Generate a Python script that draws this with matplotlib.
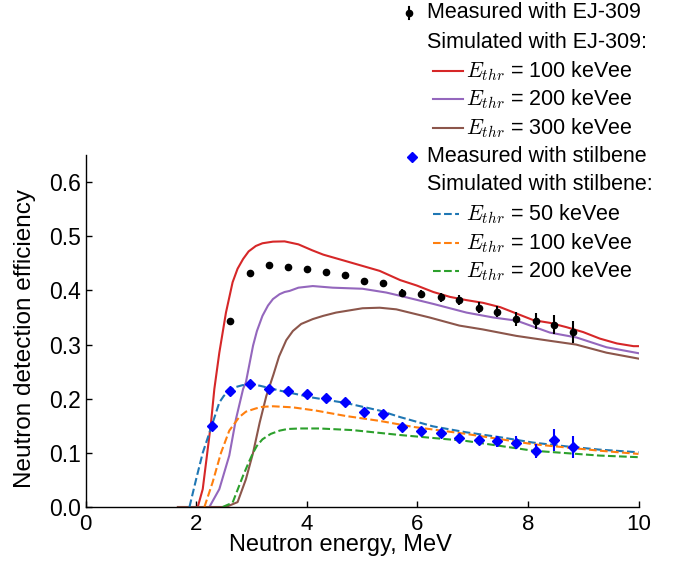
import matplotlib
matplotlib.use("Agg")
import matplotlib.pyplot as plt
from matplotlib.lines import Line2D

plt.rcParams["font.family"] = ["Liberation Sans", "DejaVu Sans"]
plt.rcParams["mathtext.fontset"] = "cm"

# measured points
e_ej = [2.62, 2.97, 3.31, 3.66, 4.00, 4.35, 4.69, 5.04, 5.38, 5.73, 6.07, 6.42, 6.76,
        7.11, 7.45, 7.79, 8.14, 8.48, 8.82]
eff_ej = [0.344, 0.432, 0.446, 0.443, 0.439, 0.434, 0.429, 0.417, 0.414, 0.396, 0.393,
          0.387, 0.382, 0.368, 0.361, 0.347, 0.343, 0.337, 0.323]
err_ej = [0.005, 0.004, 0.004, 0.004, 0.004, 0.004, 0.004, 0.005, 0.006, 0.006, 0.007,
          0.008, 0.009, 0.010, 0.011, 0.013, 0.015, 0.017, 0.020]

e_st = [2.28, 2.62, 2.97, 3.31, 3.66, 4.00, 4.35, 4.69, 5.04, 5.38, 5.73, 6.07, 6.42,
        6.76, 7.11, 7.45, 7.79, 8.14, 8.48, 8.82]
eff_st = [0.149, 0.214, 0.228, 0.218, 0.214, 0.209, 0.201, 0.194, 0.175, 0.171, 0.147,
          0.140, 0.137, 0.127, 0.123, 0.121, 0.119, 0.103, 0.124, 0.111]
err_st = [0.004, 0.004, 0.004, 0.004, 0.004, 0.004, 0.004, 0.004, 0.005, 0.005, 0.006,
          0.006, 0.007, 0.008, 0.009, 0.010, 0.012, 0.013, 0.020, 0.020]

# simulated EJ-309
e_red = [2.03, 2.12, 2.18, 2.27, 2.33, 2.42, 2.54, 2.66, 2.75, 2.85, 2.95, 3.08, 3.20,
         3.39, 3.60, 3.85, 4.10, 4.30, 4.71, 5.32, 5.69, 5.99, 6.29, 6.59, 6.89, 7.19,
         7.50, 7.80, 8.10, 8.40, 8.70, 9.00, 9.30, 9.61, 9.91, 10.0]
v_red = [0.0, 0.033, 0.082, 0.156, 0.218, 0.285, 0.359, 0.415, 0.440, 0.458, 0.472,
         0.482, 0.487, 0.490, 0.4905, 0.485, 0.474, 0.466, 0.454, 0.436, 0.419, 0.409,
         0.397, 0.388, 0.382, 0.377, 0.369, 0.357, 0.345, 0.340, 0.332, 0.323, 0.311,
         0.302, 0.297, 0.297]

e_pur = [2.24, 2.42, 2.60, 2.72, 2.85, 2.90, 3.03, 3.10, 3.20, 3.30, 3.39, 3.51, 3.60,
         3.69, 3.85, 4.11, 4.47, 5.01, 5.44, 5.69, 6.29, 6.89, 7.37, 7.80, 8.40, 8.88,
         9.42, 10.0]
v_pur = [0.0, 0.033, 0.095, 0.162, 0.218, 0.230, 0.298, 0.325, 0.353, 0.372, 0.384,
         0.393, 0.397, 0.399, 0.405, 0.408, 0.405, 0.403, 0.396, 0.390, 0.375, 0.359,
         0.350, 0.344, 0.322, 0.313, 0.295, 0.284]

e_brn = [1.67, 2.54, 2.75, 2.90, 3.03, 3.15, 3.27, 3.40, 3.50, 3.63, 3.75, 3.90, 4.11,
         4.30, 4.53, 5.01, 5.32, 5.62, 6.22, 6.76, 7.18, 7.79, 8.39, 8.87, 9.42, 10.0]
v_brn = [0.0, 0.0, 0.009, 0.051, 0.100, 0.156, 0.205, 0.245, 0.278, 0.308, 0.325,
         0.338, 0.347, 0.353, 0.359, 0.367, 0.368, 0.365, 0.350, 0.335, 0.328, 0.316,
         0.307, 0.300, 0.285, 0.274]

# simulated stilbene
e_blu = [1.88, 2.00, 2.12, 2.27, 2.42, 2.50, 2.60, 2.70, 2.84, 3.00, 3.15, 3.51, 4.11,
         4.71, 5.32, 5.69, 6.28, 6.88, 7.49, 8.09, 8.69, 9.29, 10.0]
v_blu = [0.0, 0.051, 0.100, 0.146, 0.193, 0.205, 0.215, 0.221, 0.225, 0.226, 0.224,
         0.215, 0.202, 0.192, 0.178, 0.166, 0.149, 0.138, 0.129, 0.119, 0.112, 0.106,
         0.101]

e_org = [2.15, 2.30, 2.45, 2.60, 2.78, 2.90, 3.08, 3.20, 3.39, 3.75, 4.17, 4.71, 5.32,
         5.92, 6.88, 8.09, 9.29, 10.0]
v_org = [0.0, 0.046, 0.100, 0.141, 0.166, 0.176, 0.182, 0.185, 0.186, 0.184, 0.178,
         0.168, 0.159, 0.148, 0.135, 0.116, 0.104, 0.098]

e_grn = [2.48, 2.66, 2.85, 2.95, 3.03, 3.10, 3.20, 3.35, 3.51, 3.65, 3.87, 4.23, 4.83,
         5.68, 6.88, 8.09, 9.29, 10.0]
v_grn = [0.0, 0.008, 0.058, 0.082, 0.100, 0.113, 0.125, 0.135, 0.141, 0.144, 0.145,
         0.145, 0.142, 0.133, 0.122, 0.104, 0.095, 0.092]

W, H = 699, 564
fig = plt.figure(figsize=(W / 100, H / 100), dpi=100)
ax = fig.add_axes([85.5 / W, 1 - 507 / H, 553 / W, 352 / H])

ax.plot(e_red, v_red, color="#d62728", lw=1.5)
ax.plot(e_pur, v_pur, color="#9467bd", lw=1.5)
ax.plot(e_brn, v_brn, color="#8c564b", lw=1.5)
ax.plot(e_blu, v_blu, color="#1f77b4", lw=1.5, ls="--")
ax.plot(e_org, v_org, color="#ff7f0e", lw=1.5, ls="--")
ax.plot(e_grn, v_grn, color="#2ca02c", lw=1.5, ls="--")

ax.errorbar(e_ej, eff_ej, yerr=err_ej, fmt="o", color="black", ms=4.5, elinewidth=1.5,
            capsize=0)
ax.errorbar(e_st, eff_st, yerr=err_st, fmt="D", color="blue", ms=5, elinewidth=1.5,
            capsize=0)

ax.set_xlim(0, 10)
ax.set_ylim(0, 0.65)
ax.set_xticks([0, 2, 4, 6, 8, 10])
ax.set_yticks([0.0, 0.1, 0.2, 0.3, 0.4, 0.5, 0.6])
ax.set_yticklabels(["0.0", "0.1", "0.2", "0.3", "0.4", "0.5", "0.6"])
for s in ["top", "right"]:
    ax.spines[s].set_visible(False)
for s in ["left", "bottom"]:
    ax.spines[s].set_linewidth(1.0)
ax.tick_params(axis="both", direction="in", length=4.5, width=1.0)
ax.tick_params(axis="x", labelsize=16, pad=5)
ax.tick_params(axis="y", labelsize=16.5, pad=3)
ax.set_xlabel("Neutron energy, MeV", fontsize=17, labelpad=0)
ax.xaxis.set_label_coords(0.461, -0.078)
ax.set_ylabel("Neutron detection efficiency", fontsize=17.5)
ax.yaxis.set_label_coords(-0.09, 0.48)


# hand-made legend, positions in figure pixels
def fx(px):
    return px / W


def fy(py):
    return 1 - py / H


leg_fs = 15.5
rows = [
    ("err", "black", "o", "Measured with EJ-309"),
    (None, None, None, "Simulated with EJ-309:"),
    ("line", "#d62728", "-", "$E_{thr}$ = 100 keVee"),
    ("line", "#9467bd", "-", "$E_{thr}$ = 200 keVee"),
    ("line", "#8c564b", "-", "$E_{thr}$ = 300 keVee"),
    ("err", "blue", "D", "Measured with stilbene"),
    (None, None, None, "Simulated with stilbene:"),
    ("line", "#1f77b4", "--", "$E_{thr}$ = 50 keVee"),
    ("line", "#ff7f0e", "--", "$E_{thr}$ = 100 keVee"),
    ("line", "#2ca02c", "--", "$E_{thr}$ = 200 keVee"),
]
row_y = [13, 42, 71, 99, 128, 157, 185, 214, 243, 271]
for (kind, col, sty, label), py in zip(rows, row_y):
    if kind == "line":
        x1 = 463 if sty == "-" else 459
        fig.add_artist(Line2D([fx(433), fx(x1)], [fy(py), fy(py)], color=col, lw=1.5,
                              ls=sty, transform=fig.transFigure))
        fig.text(fx(466), fy(py), label, fontsize=leg_fs, va="center", ha="left")
    else:
        if kind == "err":
            mx = 408.5 if col == "black" else 411.5
            if col == "black":
                fig.add_artist(Line2D([fx(mx), fx(mx)], [fy(py - 6), fy(py + 6)],
                                      color=col, lw=1.5, transform=fig.transFigure))
            fig.add_artist(Line2D([fx(mx)], [fy(py)], marker=sty, color=col,
                                  ms=4.5 if sty == "o" else 5, ls="none",
                                  transform=fig.transFigure))
        fig.text(fx(427), fy(py), label, fontsize=leg_fs, va="center", ha="left")

fig.savefig("out.png", dpi=100)
